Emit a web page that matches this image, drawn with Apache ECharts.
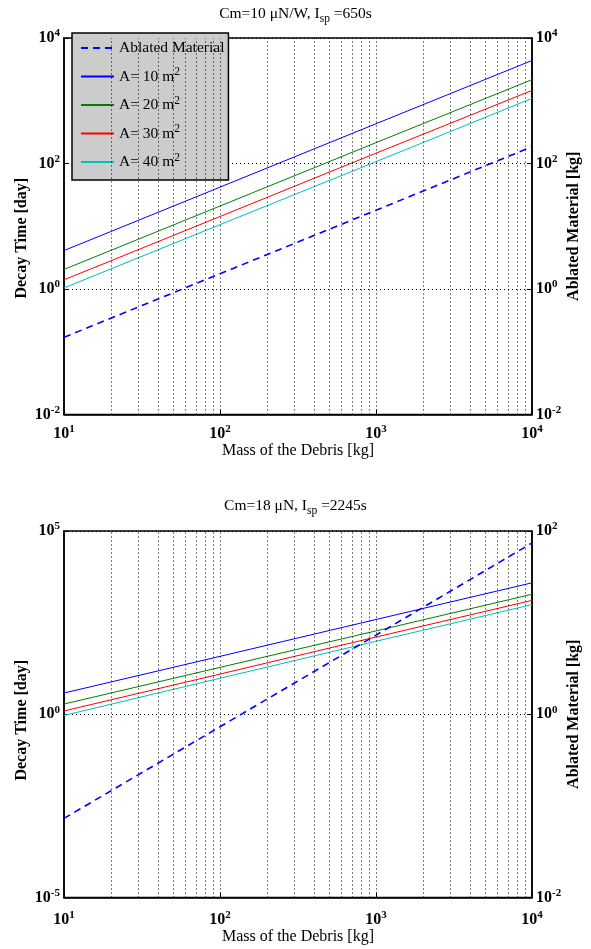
<!DOCTYPE html>
<html>
<head>
<meta charset="utf-8">
<script src="https://cdn.jsdelivr.net/npm/echarts@6/dist/echarts.min.js"></script>
<style>html,body{margin:0;padding:0;background:#fff;}#c{width:591px;height:949px;}</style>
</head>
<body>
<div id="c"></div>
<script>
// ---- data ----
const mass = [10, 100, 1000, 10000];
const areas = [10, 20, 30, 40];
const topDecayA10 = [4.1, 42, 430, 4380];
const topDecayA20 = [2.05, 21, 215, 2170];
const topDecayA30 = [1.40, 14.3, 146, 1460];
const topDecayA40 = [1.04, 10.6, 107, 1090];
const topAblated  = [0.17, 1.75, 18, 185];
const botDecayA10 = [3.8, 38, 385, 3850];
const botDecayA20 = [1.9, 19, 188, 1880];
const botDecayA30 = [1.23, 12.5, 128, 1280];
const botDecayA40 = [0.93, 9.6, 98, 980];
const botAblated  = [0.073, 0.73, 7.3, 74];
const xGridValues = [20,30,40,50,60,70,80,90,100,200,300,400,500,600,700,800,900,1000,2000,3000,4000,5000,6000,7000,8000,9000];
const topTitle = ['Cm=10 \u03bcN/W, I', 'sp', ' =650s'];
const botTitle = ['Cm=18 \u03bcN, I', 'sp', ' =2245s'];
const ablatedName = 'Ablated Material';
const decayNames = areas.map(a => 'A= ' + a + ' m2');

const colors = ['#0000ff', '#008000', '#ff0000', '#00bfbf'];
const FONT = 'Liberation Serif';

function expLabel(v) {
  const e = Math.round(Math.log10(v));
  return '{b|10}{s|' + e + '}';
}
const tickRich = {
  b: {fontFamily: FONT, fontSize: 16, fontWeight: 'bold', color: '#000'},
  s: {fontFamily: FONT, fontSize: 11, fontWeight: 'bold', color: '#000', padding: [0, 0, 9, 0]}
};

function xAxis(gridIndex) {
  return {
    type: 'log', logBase: 10, gridIndex: gridIndex, min: 10, max: 10000, interval: 1,
    axisLine: {show: true, lineStyle: {color: '#000', width: 1.5}},
    axisTick: {show: true, inside: true, length: 5, lineStyle: {color: '#000'}},
    splitLine: {show: false},
    axisLabel: {formatter: expLabel, rich: tickRich, margin: gridIndex === 0 ? 9 : 12, showMinLabel: true, showMaxLabel: true},
    name: 'Mass of the Debris [kg]', nameLocation: 'middle', nameGap: gridIndex === 0 ? 25 : 28,
    nameTextStyle: {fontFamily: FONT, fontSize: 16, color: '#000'}
  };
}
function yAxis(gridIndex, pos, min, max, interval, name, split, pad) {
  return {
    type: 'log', logBase: 10, gridIndex: gridIndex, position: pos, min: min, max: max, interval: interval,
    axisLine: {show: true, lineStyle: {color: '#000', width: 1.5}},
    axisTick: {show: true, inside: true, length: 5, lineStyle: {color: '#000'}},
    splitLine: {show: split, lineStyle: {color: '#000', type: [1, 3], width: 1}},
    axisLabel: {formatter: expLabel, rich: tickRich, margin: 4, showMinLabel: true, showMaxLabel: true},
    name: name, nameLocation: 'middle', nameGap: pos === 'left' ? 34 : 34, nameRotate: 90,
    nameMoveOverlap: false,
    nameTextStyle: {fontFamily: FONT, fontSize: 16, fontWeight: 'bold', color: '#000', padding: pad}
  };
}
function pairs(arr) { return mass.map((m, i) => [m, arr[i]]); }
function gridMark() {
  return {
    silent: true, symbol: 'none', animation: false,
    label: {show: false},
    lineStyle: {color: '#000', type: [1, 3], width: 1},
    data: xGridValues.map(v => ({xAxis: v}))
  };
}
function buildSeries(gi, decays, ablated) {
  const s = decays.map((d, i) => ({
    name: decayNames[i], type: 'line', xAxisIndex: gi, yAxisIndex: gi * 2,
    data: pairs(d), symbol: 'none', color: colors[i],
    lineStyle: {color: colors[i], width: 1}, z: 3,
    markLine: i === 0 ? gridMark() : undefined
  }));
  s.push({
    name: ablatedName, type: 'line', xAxisIndex: gi, yAxisIndex: gi * 2 + 1,
    data: pairs(ablated), symbol: 'none', color: '#0000ff',
    lineStyle: {color: '#0000ff', width: 1.6, type: [7, 5]}, z: 3
  });
  return s;
}
function titleText(t) { return '{a|' + t[0] + '}{sub|' + t[1] + '}{a|' + t[2] + '}'; }
const titleRich = {
  a: {fontFamily: FONT, fontSize: 15.5, color: '#000'},
  sub: {fontFamily: FONT, fontSize: 11.5, color: '#000', padding: [10, 0, 0, 0]}
};

const chart = echarts.init(document.getElementById('c'), null, {renderer: 'canvas'});
chart.setOption({
  animation: false,
  backgroundColor: '#fff',
  title: [
    {text: titleText(topTitle), left: 'center', top: -2, textStyle: {rich: titleRich, fontFamily: FONT, fontSize: 15.5, fontWeight: 'normal', color: '#000'}},
    {text: titleText(botTitle), left: 'center', top: 490, textStyle: {rich: titleRich, fontFamily: FONT, fontSize: 15.5, fontWeight: 'normal', color: '#000'}}
  ],
  grid: [
    {left: 64, right: 59, top: 38, height: 376.5, show: true, borderColor: '#000', borderWidth: 1.5, backgroundColor: 'transparent'},
    {left: 64, right: 59, top: 531, height: 366.5, show: true, borderColor: '#000', borderWidth: 1.5, backgroundColor: 'transparent'}
  ],
  legend: {
    show: true, orient: 'vertical', left: 72, top: 33,
    data: [ablatedName].concat(decayNames),
    backgroundColor: '#cccccc', borderColor: '#000', borderWidth: 1.5,
    padding: [5, 4, 8, 8], itemGap: 8, itemWidth: 33, itemHeight: 14,
    itemStyle: {opacity: 0},
    formatter: function (n) {
      if (n === ablatedName) return '{t|' + n + '}';
      return '{t|' + n.slice(0, -1) + '}{s|2}';
    },
    textStyle: {
      fontFamily: FONT, fontSize: 15.5, color: '#000', lineHeight: 20,
      rich: {
        t: {fontFamily: FONT, fontSize: 15.5, color: '#000', lineHeight: 20},
        s: {fontFamily: FONT, fontSize: 11.5, color: '#000', padding: [0, 0, 9, 0]}
      }
    },
    selectedMode: false
  },
  xAxis: [xAxis(0), xAxis(1)],
  yAxis: [
    yAxis(0, 'left', 0.01, 10000, 2, 'Decay Time [day]', true, [0, 24, 0, 0]),
    yAxis(0, 'right', 0.01, 10000, 2, 'Ablated Material [kg]', false, 0),
    yAxis(1, 'left', 1e-5, 1e5, 5, 'Decay Time [day]', true, [0, 12, 0, 0]),
    yAxis(1, 'right', 0.01, 100, 2, 'Ablated Material [kg]', false, 0)
  ],
  series: buildSeries(0, [topDecayA10, topDecayA20, topDecayA30, topDecayA40], topAblated)
    .concat(buildSeries(1, [botDecayA10, botDecayA20, botDecayA30, botDecayA40], botAblated))
});
</script>
</body>
</html>
